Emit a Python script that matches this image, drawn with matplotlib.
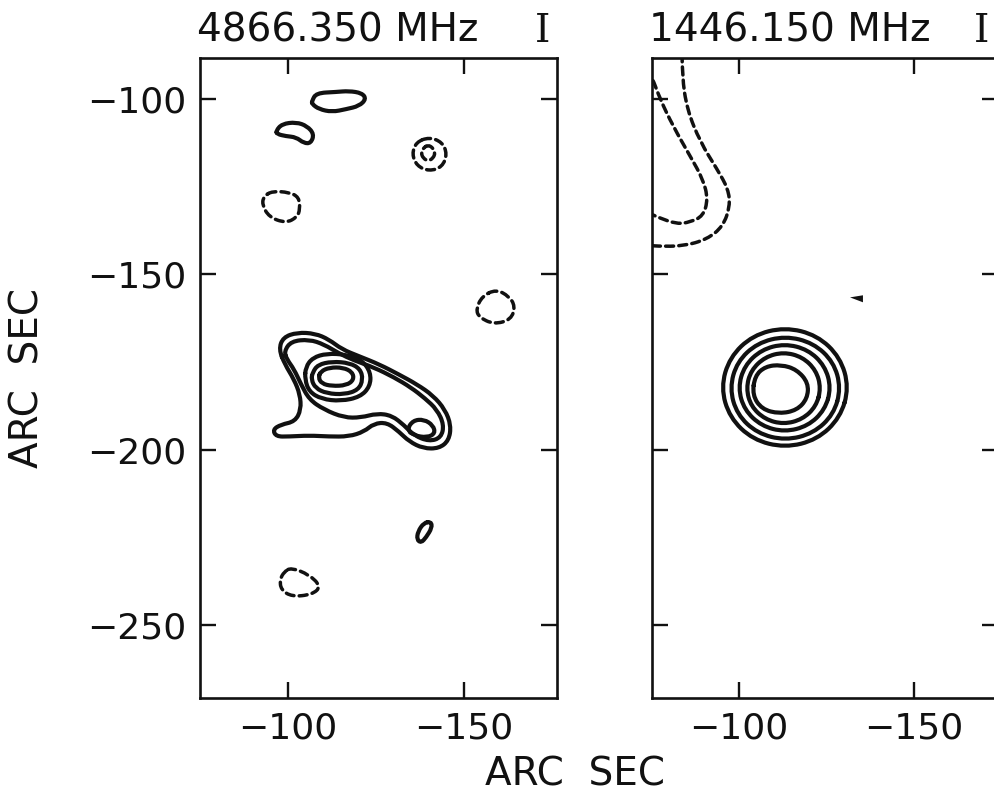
import matplotlib
matplotlib.use("Agg")
import matplotlib.pyplot as plt
import numpy as np
from matplotlib.path import Path
from matplotlib.patches import PathPatch, Polygon

INK = "#111111"

LEFT_TITLE = "4866.350 MHz"
RIGHT_TITLE = "1446.150 MHz"
STOKES = "I"
AXIS_LABEL = "ARC  SEC"

X_TICKS = [-100, -150]
Y_TICKS = [-100, -150, -200, -250]
LEFT_XLIM = (-75.0, -176.4)
RIGHT_XLIM = (-75.1, -174.0)
YLIM = (-270.9, -88.3)

# ---- 4866.350 MHz map: solid contours (positive levels) ----
L_MAIN_1 = (
    [-97.4, -98.6, -102.6, -107.7, -111.6, -115.3, -120.2, -125.9, -131.5, -136.6, -141.2,
     -144.6, -146.3, -145.7, -142.9, -138.4, -134.4, -131.5, -128.1, -124.4, -121.6, -117.3,
     -111.6, -106.0, -100.3, -96.6, -95.7, -98.0, -102.0, -103.7, -103.4, -101.7, -99.1],
    [-171.4, -168.0, -166.6, -166.9, -168.6, -171.4, -173.4, -175.7, -178.6, -181.4, -184.6,
     -188.6, -193.1, -197.4, -199.7, -199.7, -197.7, -194.9, -192.3, -192.6, -194.9, -196.3,
     -196.3, -196.0, -196.3, -196.3, -194.3, -192.9, -192.0, -188.6, -184.3, -180.0, -175.7],
)
L_MAIN_2 = (
    [-98.9, -100.9, -106.0, -110.2, -114.5, -118.8, -124.4, -130.1, -134.9, -138.9, -142.3,
     -144.3, -143.5, -140.1, -135.8, -133.0, -129.5, -125.3, -120.7, -115.9, -110.2, -106.0,
     -103.7, -101.7, -99.7],
    [-172.0, -169.1, -168.6, -170.0, -172.6, -174.6, -176.6, -179.4, -182.3, -185.4, -188.6,
     -192.9, -196.6, -197.7, -196.0, -193.1, -190.3, -189.7, -190.9, -190.9, -188.6, -185.7,
     -181.4, -177.1, -174.3],
)
L_MAIN_3 = (
    [-105.0, -107.0, -111.0, -116.5, -121.0, -123.5, -123.3, -120.5, -115.0, -109.5, -106.0, -104.8],
    [-176.5, -173.8, -172.6, -172.9, -174.5, -178.0, -182.0, -185.0, -186.2, -185.6, -183.5, -180.0],
)
L_MAIN_4 = (
    [-107.0, -108.5, -112.5, -117.5, -120.5, -121.3, -120.0, -116.0, -111.0, -107.8, -106.6],
    [-178.0, -175.8, -174.9, -175.3, -177.0, -180.0, -183.0, -184.3, -184.0, -182.5, -180.0],
)
L_MAIN_5 = (
    [-109.3, -111.8, -115.6, -118.3, -118.7, -116.6, -112.4, -109.6, -108.6],
    [-177.7, -176.6, -176.6, -177.9, -180.1, -181.7, -181.9, -181.2, -179.5],
)
L_KNOT = (
    [-133.8, -135.5, -138.6, -141.2, -141.8, -139.5, -135.8],
    [-194.3, -191.7, -191.4, -193.1, -195.4, -196.6, -196.0],
)
L_BEAN = (
    [-106.8, -108.0, -113.6, -117.3, -121.0, -122.2, -120.2, -116.5, -112.5, -108.8, -106.8],
    [-100.6, -98.3, -98.0, -97.7, -98.3, -100.0, -102.0, -102.9, -103.7, -102.9, -101.4],
)
L_BLOB = (
    [-96.6, -98.3, -102.3, -105.4, -107.4, -106.5, -104.5, -102.3, -99.4, -96.9],
    [-109.1, -107.1, -106.6, -107.7, -110.0, -112.6, -112.6, -110.9, -110.6, -110.0],
)
L_SMALL = (
    [-140.6, -140.9, -139.2, -137.8, -136.6, -136.9, -138.6],
    [-220.6, -222.3, -225.1, -226.6, -225.7, -223.4, -220.9],
)

# ---- 4866.350 MHz map: dashed contours (negative levels) ----
L_NEG_A = (
    [-95.5, -100.3, -103.1, -103.4, -102.6, -99.4, -94.6, -92.6, -93.2],
    [-126.3, -126.6, -128.0, -131.4, -133.7, -135.4, -133.7, -130.0, -127.7],
)
L_NEG_B = (
    [-159.1, -162.8, -164.5, -163.4, -158.5, -154.3, -153.4, -155.1],
    [-154.3, -156.3, -159.1, -162.9, -164.3, -162.3, -160.0, -156.3],
)
L_NEG_C_OUT = (
    [-140.1, -143.8, -145.2, -143.8, -140.1, -136.6, -135.2, -136.4],
    [-110.9, -112.3, -115.7, -119.4, -120.6, -119.1, -115.7, -112.3],
)
L_NEG_C_IN = (
    [-139.8, -141.2, -141.8, -141.2, -139.8, -138.4, -137.8, -138.4],
    [-113.1, -114.0, -115.4, -116.9, -117.7, -116.9, -115.4, -114.0],
)
L_NEG_D = (
    [-100.9, -106.0, -109.4, -106.8, -101.1, -98.0, -97.7, -98.9],
    [-233.7, -235.7, -239.1, -241.4, -242.0, -240.0, -237.1, -234.9],
)

# ---- 1446.150 MHz map ----
R_RING_1 = (
    [-104.5, -107.5, -112.0, -116.5, -119.8, -119.5, -116.5, -111.5, -106.5, -103.8],
    [-179.0, -176.3, -175.8, -177.2, -181.0, -185.5, -188.8, -189.8, -188.5, -184.5],
)
R_RING_2 = (
    [-123.4, -122.0, -118.1, -112.7, -107.4, -103.4, -102.0, -103.4, -107.4, -112.7, -118.1, -122.0],
    [-182.5, -177.4, -173.6, -172.2, -173.6, -177.4, -182.5, -187.7, -191.4, -192.8, -191.4, -187.7],
)
R_RING_3 = (
    [-126.3, -124.5, -119.7, -113.0, -106.4, -101.5, -99.7, -101.5, -106.4, -113.0, -119.7, -124.5],
    [-182.4, -176.1, -171.5, -169.8, -171.5, -176.1, -182.4, -188.7, -193.3, -195.0, -193.3, -188.7],
)
R_RING_4 = (
    [-129.1, -127.0, -121.2, -113.2, -105.2, -99.4, -97.3, -99.4, -105.2, -113.2, -121.2, -127.0],
    [-182.5, -175.0, -169.6, -167.6, -169.6, -175.0, -182.5, -190.0, -195.4, -197.4, -195.4, -190.0],
)
R_RING_5 = (
    [-131.4, -128.9, -122.3, -113.1, -103.9, -97.3, -94.8, -97.3, -103.9, -113.1, -122.3, -128.9],
    [-182.3, -173.7, -167.4, -165.1, -167.4, -173.7, -182.3, -190.9, -197.2, -199.5, -197.2, -190.9],
)
R_NEG_INNER = (
    [-73.7, -75.1, -77.4, -81.1, -86.0, -89.7, -91.1, -89.7, -86.0, -82.3, -76.6, -73.1],
    [-91.4, -93.7, -100.0, -107.7, -116.3, -122.9, -128.6, -133.4, -135.1, -135.7, -133.7, -132.0],
)
R_NEG_OUTER = (
    [-83.7, -83.7, -85.1, -88.9, -93.7, -96.9, -97.4, -95.4, -90.9, -84.0, -76.6, -73.1],
    [-87.1, -93.4, -102.9, -112.3, -120.0, -125.7, -130.6, -136.3, -140.0, -142.0, -142.0, -141.7],
)
R_MARKER = ([-131.7, -135.4, -135.4], [-156.6, -156.0, -158.0])


def closed_path(xs, ys):
    pts = np.column_stack([xs, ys])
    mids = (pts + np.roll(pts, -1, axis=0)) / 2
    verts = [mids[-1]]
    codes = [Path.MOVETO]
    for p, m in zip(pts, mids):
        verts += [p, m]
        codes += [Path.CURVE3, Path.CURVE3]
    return Path(verts, codes)


def open_path(xs, ys):
    pts = np.column_stack([xs, ys])
    verts = [pts[0]]
    codes = [Path.MOVETO]
    for i in range(1, len(pts) - 1):
        verts += [pts[i], (pts[i] + pts[i + 1]) / 2]
        codes += [Path.CURVE3, Path.CURVE3]
    verts.append(pts[-1])
    codes.append(Path.LINETO)
    return Path(verts, codes)


def draw(ax, contour, dashed=False, closed=True):
    path = closed_path(*contour) if closed else open_path(*contour)
    style = (0, (2.3, 1.5)) if dashed else "solid"
    lw = 2.5 if dashed else 3.0
    ax.add_patch(PathPatch(path, facecolor="none", edgecolor=INK,
                           linewidth=lw, linestyle=style, capstyle="round"))


def style_axes(ax, xlim, show_y):
    ax.set_xlim(*xlim)
    ax.set_ylim(*YLIM)
    ax.set_xticks(X_TICKS, [f"\u2212{abs(v)}" for v in X_TICKS])
    ax.set_yticks(Y_TICKS, [f"\u2212{abs(v)}" for v in Y_TICKS])
    ax.tick_params(direction="in", length=11.5, width=1.7, top=True, right=True,
                   labelsize=26, pad=10, colors=INK, labelleft=show_y)
    for spine in ax.spines.values():
        spine.set_linewidth(1.9)
        spine.set_color(INK)


fig = plt.figure(figsize=(9.95, 7.95), dpi=100, facecolor="white")
ax_l = fig.add_axes([200 / 995, 1 - 698 / 795, 357 / 995, 640 / 795])
ax_r = fig.add_axes([652 / 995, 1 - 698 / 795, 346 / 995, 640 / 795])

for c in [L_MAIN_1, L_MAIN_2, L_MAIN_3, L_MAIN_4, L_MAIN_5, L_KNOT, L_BEAN, L_BLOB, L_SMALL]:
    draw(ax_l, c)
for c in [L_NEG_A, L_NEG_B, L_NEG_C_OUT, L_NEG_C_IN, L_NEG_D]:
    draw(ax_l, c, dashed=True)

for c in [R_RING_1, R_RING_2, R_RING_3, R_RING_4, R_RING_5]:
    draw(ax_r, c)
for c in [R_NEG_INNER, R_NEG_OUTER]:
    draw(ax_r, c, dashed=True, closed=False)
ax_r.add_patch(Polygon(np.column_stack(R_MARKER), closed=True, color=INK, linewidth=0))

style_axes(ax_l, LEFT_XLIM, True)
style_axes(ax_r, RIGHT_XLIM, False)
# the right frame edge of the second map falls off the cropped page
ax_r.spines["right"].set_visible(False)

for ax, title, stokes_x in [(ax_l, LEFT_TITLE, 0.98), (ax_r, RIGHT_TITLE, 0.975)]:
    ax.text(-0.008, 1.025, title, transform=ax.transAxes, ha="left", va="baseline",
            fontsize=28, color=INK)
    ax.text(stokes_x, 1.025, STOKES, transform=ax.transAxes, ha="right", va="baseline",
            fontsize=28, color=INK, family="DejaVu Serif")

fig.text(28 / 995, 1 - 378 / 795, AXIS_LABEL, rotation=90, ha="center", va="center",
         fontsize=28, color=INK)
fig.text(575 / 995, 1 - 775 / 795, AXIS_LABEL, ha="center", va="center",
         fontsize=28, color=INK)

fig.savefig("out.png", dpi=100, facecolor="white")
